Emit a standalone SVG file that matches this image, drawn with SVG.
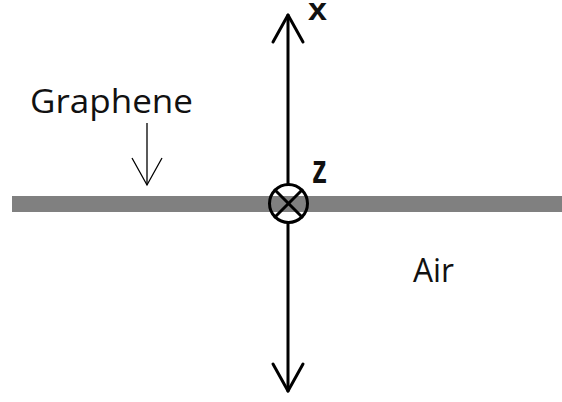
<svg xmlns="http://www.w3.org/2000/svg" width="562" height="402" viewBox="0 0 562 402">
<style>
.lbl{font-family:"Open Sans","Liberation Sans",sans-serif;fill:#111;}
.ax{font-family:"Liberation Sans","Open Sans",sans-serif;font-weight:bold;fill:#111;}
.main{stroke:#000;stroke-width:3;fill:none;stroke-linecap:round;stroke-linejoin:round;}
.thin{stroke:#000;stroke-width:1.3;fill:none;}
</style>
<rect width="562" height="402" fill="#fff"/>
<g id="graphene-layer">
<rect x="12" y="196" width="550" height="16" fill="#808080"/>
</g>
<g id="graphene-label">
<text class="lbl" x="30" y="113" font-size="32" textLength="163" lengthAdjust="spacingAndGlyphs">Graphene</text>
</g>
<g id="air-label">
<text class="lbl" x="413" y="282" font-size="33" textLength="41" lengthAdjust="spacingAndGlyphs">Air</text>
</g>
<g id="z-axis">
<circle class="main" cx="288.5" cy="203.5" r="19"/>
<line class="main" x1="275" y1="190" x2="302" y2="217"/>
<line class="main" x1="302" y1="190" x2="275" y2="217"/>
<text class="ax" x="312" y="183" font-size="40" textLength="15" lengthAdjust="spacingAndGlyphs">z</text>
</g>
<g id="x-label">
<text class="ax" x="308" y="20" font-size="31" textLength="19" lengthAdjust="spacingAndGlyphs">x</text>
</g>
<g id="connectors">
<line class="main" x1="288" y1="15" x2="288" y2="184.5"/>
<polyline class="main" points="273,42 288,15 303,42"/>
<line class="main" x1="288" y1="222.5" x2="288" y2="391"/>
<polyline class="main" points="273,364 288,391 303,364"/>
<line class="thin" x1="147" y1="123" x2="147" y2="185"/>
<polyline class="thin" points="132,158 147,185 162,158"/>
</g>
</svg>
